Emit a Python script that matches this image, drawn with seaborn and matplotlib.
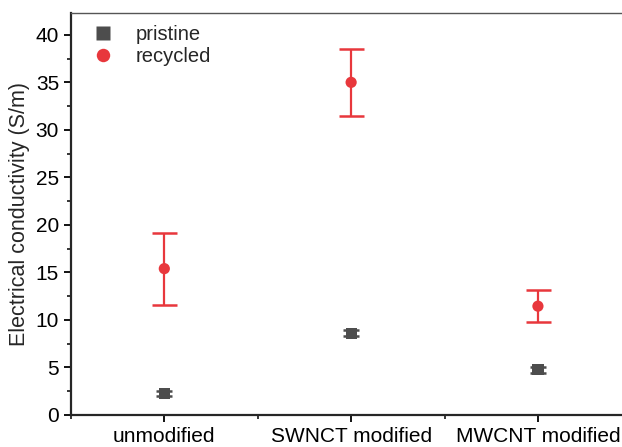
import numpy as np
import pandas as pd
import matplotlib
matplotlib.use("Agg")
import matplotlib.pyplot as plt
from matplotlib.ticker import MultipleLocator
import seaborn as sns

# data
categories = ["unmodified", "SWNCT modified", "MWCNT modified"]
pristine = [2.3, 8.6, 4.75]
pristine_err = [0.25, 0.3, 0.3]
recycled = [15.4, 35.0, 11.45]
recycled_err = [3.8, 3.5, 1.7]

data = pd.DataFrame({
    "sample": categories * 2,
    "x": list(range(len(categories))) * 2,
    "sigma": pristine + recycled,
    "err": pristine_err + recycled_err,
    "state": ["pristine"] * 3 + ["recycled"] * 3,
})

sns.set_style("ticks")
plt.rcParams["font.family"] = ["Liberation Sans", "DejaVu Sans"]

colors = {"pristine": "#4d4d4d", "recycled": "#e8373c"}
markers = {"pristine": "s", "recycled": "o"}
caps = {"pristine": 6, "recycled": 9}

fig = plt.figure(figsize=(6.22, 4.47), dpi=100)
ax = fig.add_axes([0.114, 0.0716, 0.886, 0.8994])

# error bars first, markers on top
for state, grp in data.groupby("state"):
    ax.errorbar(grp["x"], grp["sigma"], yerr=grp["err"], fmt="none",
                ecolor=colors[state], elinewidth=1.6, capsize=caps[state],
                capthick=1.8, zorder=2)

sns.scatterplot(data=data, x="x", y="sigma", hue="state", style="state",
                palette=colors, markers=markers, s=65, edgecolor="none",
                ax=ax, zorder=3)

ax.set_xlim(-0.5, 2.45)
ax.set_ylim(0, 42.3)
ax.set_xticks(range(len(categories)))
ax.set_xticklabels(categories)
ax.xaxis.set_minor_locator(MultipleLocator(0.5))
ax.yaxis.set_major_locator(MultipleLocator(5))
ax.yaxis.set_minor_locator(MultipleLocator(2.5))
ax.tick_params(axis="both", which="major", direction="out", length=5,
               width=1.3, labelsize=15, colors="black")
ax.tick_params(axis="both", which="minor", direction="out", length=3,
               width=1.3)
ax.tick_params(axis="x", which="minor", bottom=True)
ax.set_xlabel("")
ax.set_ylabel("Electrical conductivity (S/m)", fontsize=15.5, labelpad=4)

for side in ["left", "bottom"]:
    ax.spines[side].set_linewidth(1.6)
ax.spines["top"].set_visible(True)
ax.spines["top"].set_linewidth(1.0)
ax.spines["top"].set_color("#555555")
ax.spines["right"].set_visible(False)

handles, labels = ax.get_legend_handles_labels()
ax.legend(handles, labels, loc="upper left", frameon=False, fontsize=14.5,
          handletextpad=0.6, borderaxespad=0.2, labelspacing=0.15,
          markerscale=1.2)

fig.savefig("out.png", dpi=100)
